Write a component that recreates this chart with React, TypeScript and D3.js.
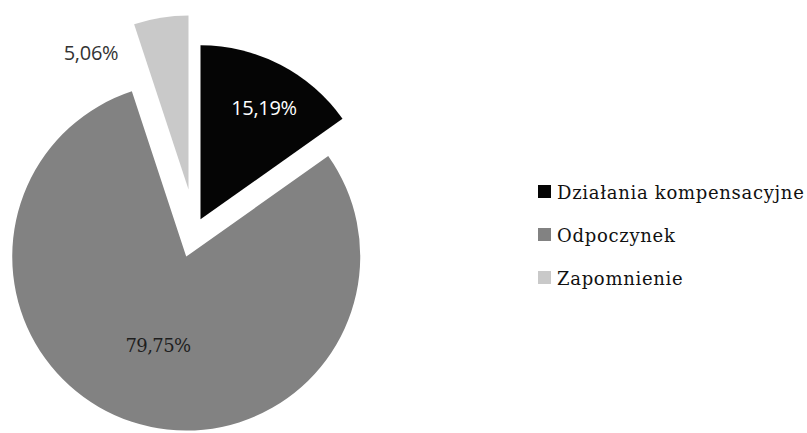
import React from "react";
import * as d3 from "d3";

const categories = ["Działania kompensacyjne", "Odpoczynek", "Zapomnienie"];
const values = [15.19, 79.75, 5.06];
const labels = ["15,19%", "79,75%", "5,06%"];

const WIDTH = 807;
const HEIGHT = 433;
const colors = ["#050505", "#828282", "#c9c9c9"];
const labelColors = ["#ffffff", "#1e1e1e", "#333333"];
const explode = [12, 28, 41];

export default function App() {
  const cx = 195;
  const cy = 230;
  const r = 174;
  const pie = d3.pie<number>().sort(null).value((d) => d)(values);
  const arc = d3.arc<d3.PieArcDatum<number>>().innerRadius(0).outerRadius(r);

  const labelPos = [
    [264, 107],
    [158, 345],
    [91, 52],
  ];

  const legendX = 538;
  const legendY = d3.scalePoint<string>().domain(categories).range([191, 277]);

  return (
    <svg
      width={WIDTH}
      height={HEIGHT}
      style={{ position: "fixed", left: 0, top: 0, background: "#fff" }}
    >
      <rect width={WIDTH} height={HEIGHT} fill="#fff" />
      <g transform={`translate(${cx},${cy})`}>
        {pie.map((p, i) => {
          const mid = (p.startAngle + p.endAngle) / 2;
          const dx = Math.sin(mid) * explode[i];
          const dy = -Math.cos(mid) * explode[i];
          return (
            <path
              key={i}
              d={arc(p) || ""}
              fill={colors[i]}
              transform={`translate(${dx},${dy})`}
            />
          );
        })}
      </g>
      {labels.map((t, i) => (
        <text
          key={i}
          x={labelPos[i][0]}
          y={labelPos[i][1]}
          textAnchor="middle"
          dominantBaseline="central"
          style={{
            fontFamily: i === 1 ? "'DejaVu Serif', serif" : "'Open Sans', sans-serif",
            fontSize: i === 1 ? 18 : 20,
            letterSpacing: i === 1 ? -0.6 : -0.3,
          }}
          fill={labelColors[i]}
        >
          {t}
        </text>
      ))}
      {categories.map((c, i) => (
        <g key={c} transform={`translate(${legendX},${legendY(c)})`}>
          <rect x={0} y={-6} width={13} height={13} fill={colors[i]} />
          <text
            x={19}
            y={1}
            dominantBaseline="central"
            style={{ fontFamily: "'DejaVu Serif', serif", fontSize: 18, letterSpacing: 0.7 }}
            fill="#111"
          >
            {c}
          </text>
        </g>
      ))}
    </svg>
  );
}
